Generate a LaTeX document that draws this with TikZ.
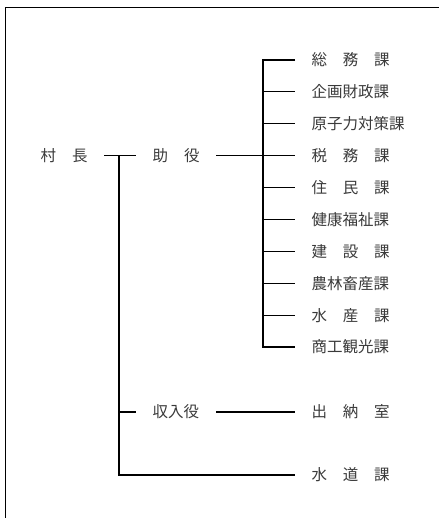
\documentclass[tikz,border=0pt]{standalone}
\usepackage{fontspec}
\newfontfamily\jpfont{Noto Sans CJK JP}
\usepackage{xcolor}
\usepackage{tikz}
\definecolor{labelgray}{HTML}{3A3A3A}

\begin{document}
\begin{tikzpicture}[x=1pt, y=1pt, line width=1.2pt]
  \tikzstyle{post}=[inner xsep=16pt, inner ysep=2pt, anchor=west, text=labelgray, font=\jpfont\fontsize{15.5pt}{16pt}\selectfont]
  \tikzstyle{dept}=[post, text width=78pt]
  \useasboundingbox (0,0) rectangle (439,-518);
  % frame
  \draw[line width=1pt] (5,-518) -- (5,-8) -- (439,-8);
  % heads
  \node[post, text width=47pt] (sonchou) at (24,-155.7) {村\hfill 長};
  \node[post, text width=47pt] (joyaku) at (136,-155.7) {助\hfill 役};
  \node[post, text width=47pt] (shunyuyaku) at (136,-412) {収入役};
  % sections
  \node[dept] (soumu) at (295,-60) {総\hfill 務\hfill 課};
  \node[dept] (kikaku) at (295,-91.9) {企画財政課};
  \node[dept] (genshi) at (295,-123.8) {原子力対策課};
  \node[dept] (zeimu) at (295,-155.7) {税\hfill 務\hfill 課};
  \node[dept] (juumin) at (295,-187.6) {住\hfill 民\hfill 課};
  \node[dept] (kenkou) at (295,-219.5) {健康福祉課};
  \node[dept] (kensetsu) at (295,-251.4) {建\hfill 設\hfill 課};
  \node[dept] (nourin) at (295,-283.3) {農林畜産課};
  \node[dept] (suisan) at (295,-315.2) {水\hfill 産\hfill 課};
  \node[dept] (shoukou) at (295,-347) {商工観光課};
  \node[dept] (suitou) at (295,-412) {出\hfill 納\hfill 室};
  \node[dept] (suidou) at (295,-475) {水\hfill 道\hfill 課};
  \coordinate (trunk) at (119,-155.7);
  \coordinate (bus) at (263,-155.7);
  % connectors
  \draw (sonchou) -- (joyaku);
  \draw (joyaku) -- (zeimu);
  \draw (trunk) |- (suidou.west);
  \draw (trunk |- shunyuyaku.west) -- (shunyuyaku.west);
  \draw (shunyuyaku) -- (suitou);
  \draw (soumu.west) -| (bus) |- (shoukou.west);
  \foreach \n in {kikaku,genshi,juumin,kenkou,kensetsu,nourin,suisan}
    \draw (bus |- \n.west) -- (\n.west);
\end{tikzpicture}
\end{document}
